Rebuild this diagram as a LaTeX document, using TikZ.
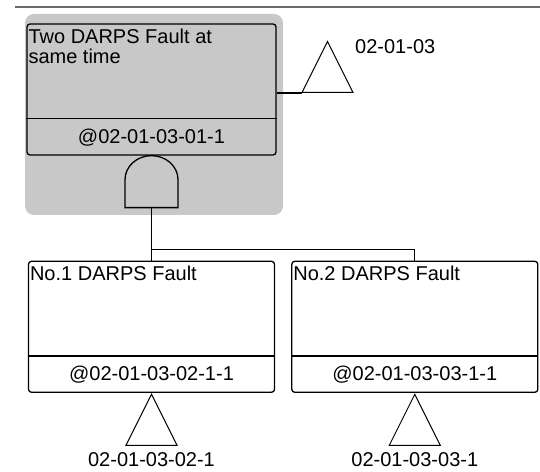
\documentclass[tikz,border=0pt]{standalone}
\usepackage{fontspec}
\setmainfont{Liberation Sans}
\usetikzlibrary{shapes.geometric,positioning,calc}
\definecolor{selgray}{RGB}{200,200,200}
\definecolor{rulegray}{RGB}{105,105,105}

\begin{document}
\begin{tikzpicture}[x=1pt, y=1pt,
    evt/.style={rectangle, draw, line width=1.3pt, rounded corners=3pt, minimum width=246pt, minimum height=131pt, inner sep=0pt},
    ttl/.style={anchor=north west, align=left, inner sep=0pt, font=\fontsize{20}{20}\selectfont},
    idtxt/.style={inner sep=0pt, font=\fontsize{20}{20}\selectfont},
    trans/.style={isosceles triangle, isosceles triangle stretches, shape border rotate=90, draw, line width=1pt, minimum width=51pt, minimum height=51pt, inner sep=0pt},
    line/.style={line width=1.3pt}]

    \useasboundingbox (0,0) rectangle (540,471);
    \draw[rulegray, line width=1.5pt] (15,464) -- (540,464);
    \node[fill=selgray, rounded corners=9pt, minimum width=258pt, minimum height=201pt] (sel) at (154,356.5) {};

    \node[evt, minimum width=249pt] (top) at (151.5,381.5) {};
    \node[evt, below=105pt of top] (left) {};
    \node[evt, right=16pt of left] (right) {};

    \draw[line] ([yshift=37pt]top.south west) -- ([yshift=37pt]top.south east);
    \draw[line] ([yshift=37pt]left.south west) -- ([yshift=37pt]left.south east);
    \draw[line] ([yshift=37pt]right.south west) -- ([yshift=37pt]right.south east);

    \node[ttl] (toptl) at ([xshift=2pt,yshift=-5pt]top.north west) {Two DARPS Fault at\\same time};
    \node[ttl] (lefttl) at ([xshift=2pt,yshift=-5pt]left.north west) {No.1 DARPS Fault};
    \node[ttl] (righttl) at ([xshift=2pt,yshift=-5pt]right.north west) {No.2 DARPS Fault};

    \node[idtxt] (topid) at ([yshift=18.5pt]top.south) {@02-01-03-01-1};
    \node[idtxt] (leftid) at ([yshift=18.5pt]left.south) {@02-01-03-02-1-1};
    \node[idtxt] (rightid) at ([yshift=18.5pt]right.south) {@02-01-03-03-1-1};

    \coordinate (gateout) at ([yshift=-52pt]top.south);
    \draw[line] ([xshift=-26.5pt]gateout) -- ++(0,28) arc[start angle=180, end angle=0, x radius=26.5, y radius=24] -- ++(0,-28) -- cycle;

    \coordinate (bus) at ([yshift=11pt]left.north);
    \draw[line] (gateout) -- (left.north);
    \draw[line] (bus) -| (right.north);

    \node[trans, anchor=lower side] (tr0) at (327.5,378) {};
    \draw[line] (tr0.lower side -| top.east) -- ($(tr0.lower side)+(-25.5,0)$);
    \node[idtxt, anchor=west] (tr0lab) at ([xshift=27.5pt,yshift=-6pt]tr0.apex) {02-01-03};

    \node[trans, anchor=apex] (tr1) at (left.south) {};
    \node[trans, anchor=apex] (tr2) at (right.south) {};
    \node[idtxt, below=7pt of tr1] (tr1lab) {02-01-03-02-1};
    \node[idtxt, below=7pt of tr2] (tr2lab) {02-01-03-03-1};
\end{tikzpicture}
\end{document}
